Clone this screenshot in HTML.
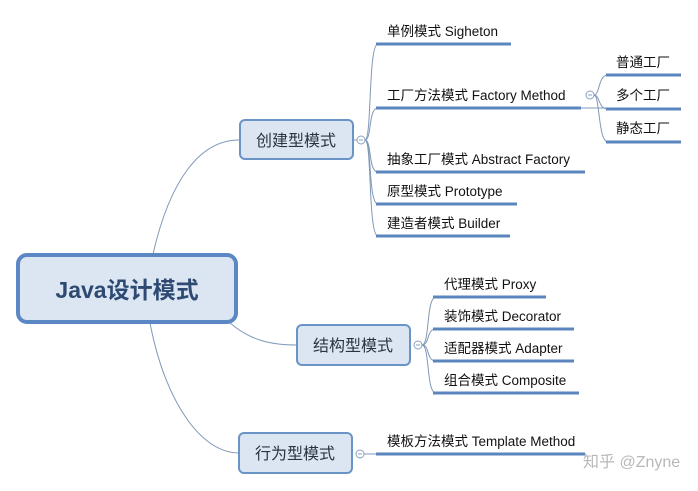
<!DOCTYPE html>
<html><head><meta charset="utf-8"><style>
html,body{margin:0;padding:0;background:#fff;}
svg{display:block;}
text{font-family:"Liberation Sans","Noto Sans CJK SC",sans-serif;fill:#111;}
.l{font-size:13.5px;}
.m{font-size:16px;fill:#2b3340;}
.ln{stroke:#5b86bd;stroke-width:3;fill:none;}
.c{stroke:#8098b8;stroke-width:1;fill:none;}
.box{fill:#dce6f3;stroke:#6a93c6;stroke-width:2;}
.ci{fill:#fff;stroke:#8aa0bd;stroke-width:1;}
</style></head><body>
<svg width="698" height="491" viewBox="0 0 698 491" xmlns="http://www.w3.org/2000/svg">
<path class="c" d="M153 254 C170 180,200 140,239 140"/>
<path class="c" d="M230 323 C250 340,270 345,297 345"/>
<path class="c" d="M150 323 C165 400,200 453,239 453"/>
<rect x="18" y="255" width="218" height="67" rx="9" fill="#dce6f3" stroke="#5b88c4" stroke-width="4"/>
<text x="127" y="298" text-anchor="middle" style="font-size:23px;font-weight:bold;fill:#2e4a72">Java设计模式</text>
<rect class="box" x="240" y="120" width="113" height="39" rx="5"/>
<text class="m" x="296" y="146" text-anchor="middle">创建型模式</text>
<line class="c" x1="353" y1="140" x2="357" y2="140"/>
<circle class="ci" cx="361" cy="140" r="4"/>
<line x1="359" y1="140" x2="363" y2="140" stroke="#8aa0bd"/>
<path class="c" d="M365 140 C372 140,368 44,378 44"/>
<path class="c" d="M365 140 C372 140,368 108,378 108"/>
<path class="c" d="M365 140 C372 140,368 172,378 172"/>
<path class="c" d="M365 140 C372 140,368 204,378 204"/>
<path class="c" d="M365 140 C372 140,368 236,378 236"/>
<line class="ln" x1="376" y1="44" x2="511" y2="44"/>
<line class="ln" x1="376" y1="108" x2="581" y2="108"/>
<line class="ln" x1="376" y1="172" x2="585" y2="172"/>
<line class="ln" x1="376" y1="204" x2="517" y2="204"/>
<line class="ln" x1="376" y1="236" x2="510" y2="236"/>
<text class="l" x="387" y="36">单例模式 Sigheton</text>
<text class="l" x="387" y="100">工厂方法模式 Factory Method</text>
<text class="l" x="387" y="164">抽象工厂模式 Abstract Factory</text>
<text class="l" x="387" y="196">原型模式 Prototype</text>
<text class="l" x="387" y="228">建造者模式 Builder</text>
<circle class="ci" cx="590" cy="95" r="4"/>
<line x1="588" y1="95" x2="592" y2="95" stroke="#8aa0bd"/>
<path class="c" d="M581 108 L606 108"/>
<path class="c" d="M594 95 C600 95,598 75,608 75"/>
<path class="c" d="M594 95 C600 95,598 109,608 109"/>
<path class="c" d="M594 95 C600 95,598 142,608 142"/>
<line class="ln" x1="606" y1="75" x2="681" y2="75"/>
<line class="ln" x1="606" y1="109" x2="681" y2="109"/>
<line class="ln" x1="606" y1="142" x2="681" y2="142"/>
<text class="l" x="616" y="67">普通工厂</text>
<text class="l" x="616" y="100">多个工厂</text>
<text class="l" x="616" y="133">静态工厂</text>
<rect class="box" x="297" y="325" width="113" height="40" rx="5"/>
<text class="m" x="353" y="351" text-anchor="middle">结构型模式</text>
<circle class="ci" cx="418" cy="345" r="4"/>
<line x1="416" y1="345" x2="420" y2="345" stroke="#8aa0bd"/>
<path class="c" d="M422 345 C430 345,426 297,436 297"/>
<path class="c" d="M422 345 C430 345,426 329,436 329"/>
<path class="c" d="M422 345 C430 345,426 361,436 361"/>
<path class="c" d="M422 345 C430 345,426 393,436 393"/>
<line class="ln" x1="433" y1="297" x2="546" y2="297"/>
<line class="ln" x1="433" y1="329" x2="574" y2="329"/>
<line class="ln" x1="433" y1="361" x2="574" y2="361"/>
<line class="ln" x1="433" y1="393" x2="579" y2="393"/>
<text class="l" x="444" y="289">代理模式 Proxy</text>
<text class="l" x="444" y="321">装饰模式 Decorator</text>
<text class="l" x="444" y="353">适配器模式 Adapter</text>
<text class="l" x="444" y="385">组合模式 Composite</text>
<rect class="box" x="239" y="433" width="113" height="40" rx="5"/>
<text class="m" x="295" y="459" text-anchor="middle">行为型模式</text>
<circle class="ci" cx="360" cy="454" r="4"/>
<line x1="358" y1="454" x2="362" y2="454" stroke="#8aa0bd"/>
<line class="c" x1="364" y1="454" x2="377" y2="454"/>
<line class="ln" x1="376" y1="454" x2="585" y2="454"/>
<text class="l" x="387" y="446">模板方法模式 Template Method</text>
<text x="583" y="467" style="font-size:16px;fill:#b8b8b8">知乎 @Znyne</text>
</svg>
</body></html>
